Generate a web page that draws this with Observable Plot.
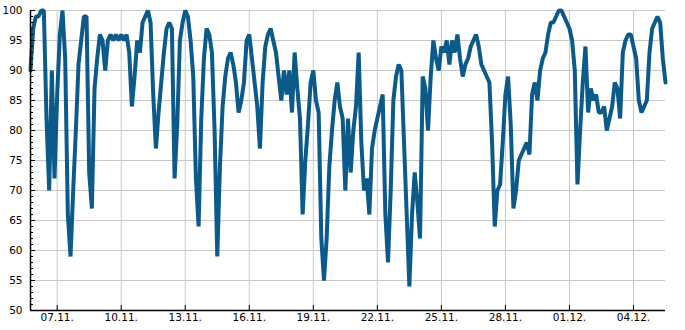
<!DOCTYPE html>
<html><head><meta charset="utf-8">
<script src="https://cdn.jsdelivr.net/npm/d3@7"></script>
<script src="https://cdn.jsdelivr.net/npm/@observablehq/plot@0.6"></script>
<style>html,body{margin:0;padding:0;background:#fff} svg{display:block}</style>
</head><body><div id="chart"></div>
<script>
// Regular 3-hourly readings, first reading at startTime
const startTime = "2023-11-05T18:00Z";
const endTime = "2023-12-05T12:00Z";
const stepHours = 3;
const humidity = [
  90, 97, 99, 99, 100, 100, 82, 70, 90, 72,
  86, 96, 100, 92, 66, 59, 70, 80, 91, 95,
  99, 99, 73, 67, 87, 92, 96, 95, 90, 95,
  96, 95, 96, 95, 96, 95, 96, 93, 84, 89,
  95, 93, 98, 99, 100, 98, 86, 77, 83, 88,
  93, 97, 98, 97, 72, 81, 95, 98, 100, 99,
  95, 89, 72, 64, 82, 92, 97, 96, 93, 80,
  59, 74, 84, 89, 92, 93, 91, 88, 83, 85,
  88, 95, 96, 92, 88, 84, 77, 88, 94, 96,
  97, 95, 93, 89, 85, 90, 86, 90, 83, 93,
  87, 82, 66, 75, 81, 88, 90, 85, 83, 62,
  55, 62, 74, 80, 85, 88, 84, 82, 70, 82,
  73, 80, 84, 93, 78, 70, 72, 66, 77, 80,
  82, 84, 86, 66, 58, 70, 85, 89, 91, 90,
  78, 66, 54, 66, 73, 68, 62, 89, 87, 80,
  89, 95, 92, 90, 94, 93, 95, 91, 95, 93,
  96, 92, 89, 91, 92, 94, 95, 96, 94, 91,
  90, 89, 88, 78, 64, 70, 71, 78, 86, 89,
  81, 67, 70, 75, 76, 77, 78, 76, 86, 88,
  85, 90, 92, 93, 96, 98, 98, 99, 100, 100,
  99, 98, 97, 95, 90, 71, 80, 88, 94, 83,
  87, 85, 86, 83, 83, 84, 80, 82, 84, 88,
  87, 82, 93, 95, 96, 96, 94, 92, 85, 83,
  84, 85, 93, 97, 98, 99, 98, 92, 88
];
const xTickDates = ["2023-11-07","2023-11-10","2023-11-13","2023-11-16","2023-11-19","2023-11-22","2023-11-25","2023-11-28","2023-12-01","2023-12-04"];
const yMajorTicks = [50, 55, 60, 65, 70, 75, 80, 85, 90, 95, 100];
const yMinorTicks = d3.range(50, 101, 1);

const t0 = new Date(startTime);
const data = humidity.map((v, i) => ({t: new Date(+t0 + i * stepHours * 3600e3), v}));
const xTicks = xTickDates.map(d => new Date(d + "T00:00Z"));
const fmt = d3.utcFormat("%d.%m.");

const chart = Plot.plot({
  width: 685, height: 330,
  marginLeft: 30, marginRight: 20, marginTop: 10, marginBottom: 20,
  style: {fontFamily: "DejaVu Sans", fontSize: "10.5px", color: "#000", background: "#fff"},
  x: {type: "utc", domain: [new Date(startTime), new Date(endTime)]},
  y: {domain: [50, 100]},
  marks: [
    Plot.gridY(yMajorTicks, {stroke: "#c8c8c8", strokeOpacity: 1, strokeWidth: 1}),
    Plot.gridX(xTicks, {stroke: "#c8c8c8", strokeOpacity: 1, strokeWidth: 1}),
    Plot.line(data, {x: "t", y: "v", stroke: "#0b5a8a", strokeWidth: 4, strokeLinejoin: "miter", curve: "linear"}),
    Plot.ruleX([new Date(startTime)], {stroke: "#000", strokeWidth: 1.5}),
    Plot.ruleY([50], {stroke: "#000", strokeWidth: 1.5}),
    Plot.axisY(yMinorTicks, {tickSize: 3, dx: 3, fill: "none", label: null, tickFormat: () => ""}),
    Plot.axisY(yMajorTicks, {tickSize: 5, dx: 5, fill: "none", label: null, tickFormat: () => ""}),
    Plot.axisY(yMajorTicks, {tickSize: 0, tickPadding: 8, label: null}),
    Plot.axisX(xTicks, {tickSize: 5, dy: -5, fill: "none", label: null, tickFormat: () => ""}),
    Plot.axisX(xTicks, {tickSize: 0, tickPadding: 3, label: null, tickFormat: fmt})
  ]
});
document.getElementById("chart").appendChild(chart);
</script>
</body></html>
